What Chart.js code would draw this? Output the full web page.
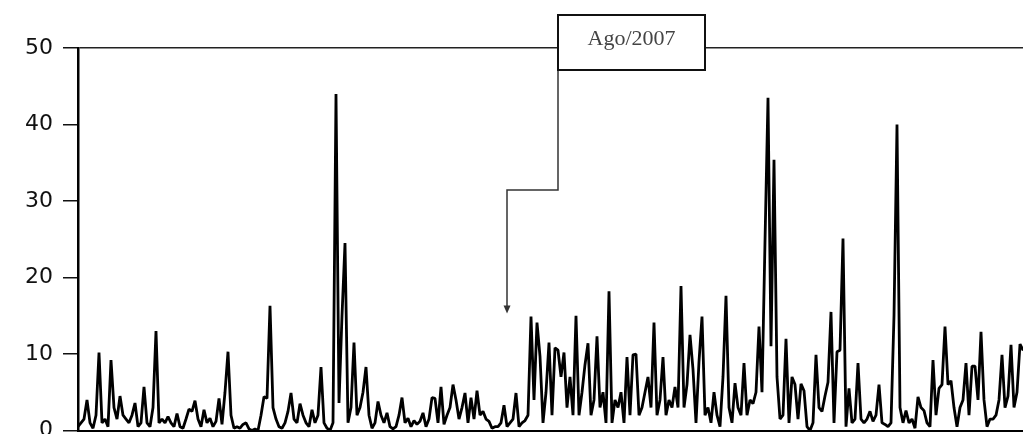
<!DOCTYPE html>
<html lang="pt">
<head>
<meta charset="UTF-8" />
<title>Série</title>
<script src="https://cdn.jsdelivr.net/npm/chart.js"></script>
<style>
  html, body { margin: 0; padding: 0; background: #fff; overflow: hidden; }
  #chart { display: block; }
</style>
</head>
<body>
<canvas id="chart" width="1030" height="460"></canvas>
<script>
// values, one every ~3px
const values = [
  0.5, 1, 1.5, 4, 1, 0.3, 2, 10.2, 1, 1.5,
  0.5, 9.2, 3, 1.5, 4.5, 2, 1.5, 1, 2, 3.6,
  0.5, 1, 5.7, 1, 0.5, 3, 13, 1, 1.5, 1,
  1.8, 1, 0.5, 2.2, 0.5, 0.3, 1.5, 2.8, 2.5, 3.9,
  1.5, 0.5, 2.7, 1, 1.6, 0.5, 1.2, 4.2, 0.8, 5,
  10.3, 2, 0.3, 0.5, 0.3, 0.8, 1, 0.2, 0, 0.2,
  0, 2, 4.4, 4.2, 16.3, 3, 1.5, 0.5, 0.3, 1,
  2.5, 4.9, 1.5, 1, 3.5, 2, 1, 0.5, 2.7, 1,
  2, 8.3, 1, 0.3, 0, 1, 44, 3.6, 15, 24.5,
  1, 3, 11.5, 2, 3, 5, 8.3, 2, 0.3, 1,
  3.8, 2, 1, 2.3, 0.5, 0.2, 0.5, 2, 4.3, 1,
  1.6, 0.5, 1.3, 0.8, 1.2, 2.3, 0.5, 1.5, 4.3, 4.2,
  1, 5.7, 0.8, 2, 3, 6, 4, 1.5, 3, 4.9,
  1, 4.3, 1.5, 5.2, 2, 2.5, 1.5, 1.2, 0.3, 0.5,
  0.5, 1, 3.3, 0.5, 1, 1.5, 4.9, 0.5, 1, 1.3,
  2, 14.9, 4, 14.1, 9.7, 1, 5, 11.5, 2, 10.8,
  10.5, 7, 10.2, 3, 7, 2, 15, 2, 5, 8.6,
  11.4, 2, 4, 12.3, 3, 5, 1, 18.2, 1, 4,
  3, 5, 1, 9.6, 2, 9.9, 10, 2, 3, 5,
  7, 3, 14.1, 2, 4, 9.6, 2, 4, 3, 5.7,
  3, 18.9, 3, 6, 12.5, 8, 1, 9, 14.9, 2,
  3, 1, 5, 2, 0.5, 7, 17.6, 3, 1, 6.2,
  3, 2, 8.8, 2, 4, 3.5, 5, 13.6, 5, 24.7,
  43.5, 11, 35.4, 7, 1.5, 2, 12, 1, 7, 6,
  1.5, 6.1, 5.2, 0.5, 0, 1, 9.9, 3, 2.5, 4.5,
  6.3, 15.5, 1, 10.3, 10.5, 25.1, 0.5, 5.5, 1, 1.5,
  8.8, 1.5, 1, 1.5, 2.5, 1.2, 2, 6, 1, 0.8,
  0.5, 1, 15, 40, 3, 1, 2.6, 1, 1.5, 0.3,
  4.4, 3, 2.6, 1, 0.5, 9.2, 2, 5.5, 6, 13.6,
  6, 6.5, 3, 0.5, 3, 4, 8.8, 2, 8.4, 8.4,
  4, 12.9, 4, 0.5, 1.5, 1.5, 2, 4, 9.9, 3,
  4.5, 11.2, 3, 5, 11.3, 10.5, 11
];
const periods = values.map((_, i) => i + 1);
const yTicks = [0, 10, 20, 30, 40, 50];

const annotLabel = "Ago/2007";
const annotIndex = 143;   // period the arrow points at
const annotValue = 15.3;

const calloutPlugin = {
  id: "callout",
  afterDraw(chart) {
    const { ctx, scales } = chart;
    const tipX = scales.x.getPixelForValue(annotIndex);
    const tipY = scales.y.getPixelForValue(annotValue);
    const boxL = 558, boxT = 15, boxW = 147, boxH = 55;
    const elbowY = 190;

    ctx.save();
    ctx.strokeStyle = "#333";
    ctx.lineWidth = 1.5;
    ctx.beginPath();
    ctx.moveTo(boxL, boxT + boxH);
    ctx.lineTo(boxL, elbowY);
    ctx.lineTo(tipX, elbowY);
    ctx.lineTo(tipX, tipY - 7);
    ctx.stroke();

    ctx.fillStyle = "#333";
    ctx.beginPath();
    ctx.moveTo(tipX - 3.5, tipY - 8);
    ctx.lineTo(tipX + 3.5, tipY - 8);
    ctx.lineTo(tipX, tipY);
    ctx.closePath();
    ctx.fill();

    ctx.fillStyle = "#fff";
    ctx.fillRect(boxL, boxT, boxW, boxH);
    ctx.strokeStyle = "#111";
    ctx.lineWidth = 2;
    ctx.strokeRect(boxL, boxT, boxW, boxH);

    ctx.fillStyle = "#444";
    ctx.font = "22px 'Liberation Serif', serif";
    ctx.textAlign = "center";
    ctx.textBaseline = "middle";
    ctx.fillText(annotLabel, boxL + boxW / 2, boxT + boxH / 2 - 3);
    ctx.restore();
  }
};

new Chart(document.getElementById("chart"), {
  type: "line",
  data: {
    labels: periods,
    datasets: [{
      data: values,
      borderColor: "#000",
      borderWidth: 2.8,
      borderJoinStyle: "bevel",
      pointRadius: 0,
      tension: 0,
      fill: false
    }]
  },
  options: {
    responsive: false,
    animation: false,
    devicePixelRatio: 1,
    layout: { padding: { top: 48, right: 4, bottom: 29.5, left: 0 } },
    plugins: { legend: { display: false }, tooltip: { enabled: false } },
    scales: {
      x: {
        type: "category",
        offset: false,
        grid: { display: false },
        ticks: { display: false },
        border: { display: true, color: "#000", width: 2 },
        afterFit: (s) => { s.height = 0; }
      },
      y: {
        min: 0,
        max: 50,
        afterBuildTicks: (s) => { s.ticks = yTicks.map(v => ({ value: v })); },
        afterFit: (s) => { s.width = 78; },
        grid: {
          drawOnChartArea: true,
          color: (c) => (c.tick && c.tick.value === 50 ? "#222" : "rgba(0,0,0,0)"),
          tickColor: "#111",
          tickLength: 15,
          lineWidth: 1.5
        },
        border: { display: true, color: "#000", width: 2.5 },
        ticks: {
          padding: 10,
          color: "#111",
          font: { family: "'DejaVu Sans'", size: 22 }
        }
      }
    }
  },
  plugins: [calloutPlugin]
});
</script>
</body>
</html>
